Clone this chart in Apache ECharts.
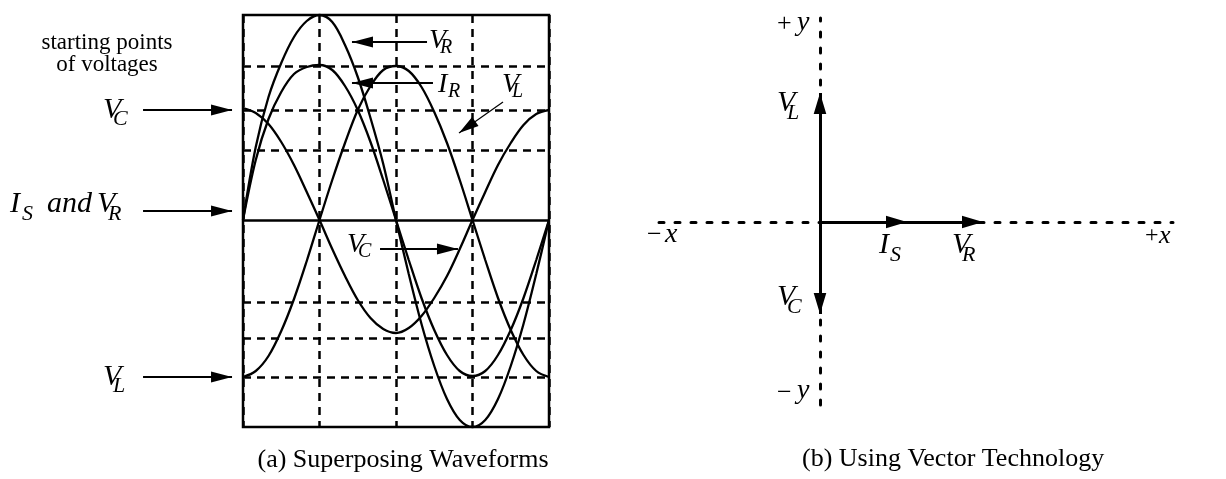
<!DOCTYPE html>
<html><head><meta charset="utf-8">
<script src="https://cdn.jsdelivr.net/npm/echarts/dist/echarts.min.js"></script>
<style>html,body{margin:0;padding:0;background:#fff}#c{width:1226px;height:479px}</style>
</head><body><div id="c"></div>
<script>
// ---------- data ----------
// phase angle (degrees) over one period
const phaseDeg = [0,15,30,45,60,75,90,105,120,135,150,165,180,195,210,225,240,255,270,285,300,315,330,345,360];
const vR = [0,73,123,157,183,199,205,198,175,143,102,56,0,-54,-104,-146,-179,-200,-207,-200,-179,-146,-104,-54,0];
const iS = [0,60,101,128,146,153,155,150,134,110,78,40,0,-40,-78,-110,-135,-151,-156,-151,-135,-110,-78,-40,0];
const vL = [-157,-151,-136,-111,-79,-41,0,40,77,110,134,150,154,149,133,108,77,40,0,-40,-78,-110,-135,-151,-157];
const vC = [112,107,96,78,55,28,0,-29,-56,-80,-98,-109,-113,-108,-96,-78,-56,-29,0,28,55,77,95,106,110];
// horizontal reference levels of the waveform panel
const gridLevels = [154,110,70,-82,-118,-157];
// phasors (x, y components)
const vectorNames = ['V_L','V_C','I_S','V_R'];
const vectorX = [0,0,87,163];
const vectorY = [129,-92,0,0];

// ---------- layout / style ----------
const SERIF = '"Liberation Serif","Times New Roman",serif';
// arrow head whose tip sits at the symbol centre (square bounding box)
function arrowPath(hw){
  return 'path://M-1,-1L-1,-1L-1,-1ZM1,-1L1,-1L1,-1ZM0,0L'+hw+',1L'+(-hw)+',1Z';
}
const toPairs = arr => arr.map((v,i)=>[phaseDeg[i], v]);

function txt(x, y, s, size, italic, align){
  return {type:'text', silent:true, z:10, style:{text:s, x:x, y:y, fill:'#000',
    font:(italic?'italic ':'')+size+'px '+SERIF,
    textAlign:align||'left', align:align||'left', textVerticalAlign:'middle', verticalAlign:'middle'}};
}
function sym(x, y, main, sub, size, dx, dy){
  return [txt(x,y,main,size,true), txt(x+dx,y+dy,sub,Math.round(size*0.72),true)];
}

const graphics = [].concat(
  txt(107,43,'starting points',23,false,'center'),
  txt(107,65,'of voltages',23,false,'center'),
  sym(103,110,'V','C',30,10,9),
  sym(10,204,'I','S',30,12,10),
  txt(47,204,'and',30,true),
  sym(97,204,'V','R',30,11,10),
  sym(103,377,'V','L',30,10,9),
  sym(429,41,'V','R',28,11,7),
  sym(438,85,'I','R',28,10,7),
  sym(502,85,'V','L',28,10,7),
  sym(347,245,'V','C',28,11,7),
  txt(777,24,'+',26,false), txt(797,23,'y',28,true),
  sym(777,103,'V','L',30,10,10),
  txt(647,235,'\u2212',26,false), txt(665,235,'x',28,true),
  sym(879,245,'I','S',30,11,10),
  sym(952,245,'V','R',30,10,10),
  sym(777,297,'V','C',30,10,10),
  txt(777,393,'\u2212',26,false), txt(797,391,'y',28,true),
  txt(1145,236,'+',24,false), txt(1159,236,'x',26,true),
  txt(403,460,'(a) Superposing Waveforms',26,false,'center'),
  txt(802,459,'(b) Using Vector Technology',26,false,'left')
);

// annotation arrows of the waveform panel (in panel data units)
const annotThick = [
  [[216.5,178],[128.2,178]],
  [[223.5,137],[128.2,137]],
  [[161.2,-29],[252.9,-29]],
  [[-117.6,110],[-12.9,110]],
  [[-117.6,9],[-12.9,9]],
  [[-117.6,-157],[-12.9,-157]]
];
const annotThin = [ [[305.9,118],[254.1,87]] ];

const curveStyle = {color:'#000', width:2.3};
function curve(name, vals, extra){
  return Object.assign({name:name, type:'line', xAxisIndex:0, yAxisIndex:0, data:toPairs(vals),
    symbol:'none', smooth:0.35, clip:false, lineStyle:curveStyle, itemStyle:{color:'#000'}, z:3,
    emphasis:{disabled:true}}, extra||{});
}

const chart = echarts.init(document.getElementById('c'), null, {renderer:'canvas'});
chart.setOption({
  animation:false,
  backgroundColor:'#fff',
  grid:[
    {left:243, top:15, width:306, height:412, show:true, borderColor:'#000', borderWidth:2.5, backgroundColor:'transparent'},
    {left:659, top:18, width:514, height:387, show:false}
  ],
  xAxis:[
    {type:'value', gridIndex:0, min:0, max:360, interval:90,
      axisLine:{show:false}, axisTick:{show:false}, axisLabel:{show:false},
      splitLine:{show:true, lineStyle:{color:'#000', width:2.5, type:[8,6]}}},
    {type:'value', gridIndex:1, min:-161, max:353,
      axisLine:{show:true, onZero:true, lineStyle:{color:'#000', width:3, type:[5,11]}},
      axisTick:{show:false}, axisLabel:{show:false}, splitLine:{show:false}}
  ],
  yAxis:[
    {type:'value', gridIndex:0, min:-207, max:205,
      axisLine:{show:false}, axisTick:{show:false}, axisLabel:{show:false}, splitLine:{show:false}},
    {type:'value', gridIndex:1, min:-183, max:204,
      axisLine:{show:true, onZero:true, lineStyle:{color:'#000', width:3, type:[5,11]}},
      axisTick:{show:false}, axisLabel:{show:false}, splitLine:{show:false}}
  ],
  series:[
    curve('V_R', vR, {markLine:{silent:true, symbol:'none', label:{show:false}, animation:false,
      lineStyle:{color:'#000', width:2.5, type:[8,6]},
      data:gridLevels.map(v=>({yAxis:v})).concat([{yAxis:0, lineStyle:{type:'solid', width:2.5, color:'#000'}}])}}),
    curve('I_S', iS),
    curve('V_L', vL),
    curve('V_C', vC),
    {type:'lines', coordinateSystem:'cartesian2d', xAxisIndex:0, yAxisIndex:0, clip:false, z:5,
      symbol:['none', arrowPath(0.26)], symbolSize:42,
      lineStyle:{color:'#000', width:2, opacity:1, curveness:0},
      data:annotThick.map(c=>({coords:c}))},
    {type:'lines', coordinateSystem:'cartesian2d', xAxisIndex:0, yAxisIndex:0, clip:false, z:5,
      symbol:['none', arrowPath(0.28)], symbolSize:40,
      lineStyle:{color:'#000', width:1.2, opacity:1, curveness:0},
      data:annotThin.map(c=>({coords:c}))},
    {type:'lines', coordinateSystem:'cartesian2d', xAxisIndex:1, yAxisIndex:1, clip:false, z:5,
      symbol:['none', arrowPath(0.3)], symbolSize:42,
      lineStyle:{color:'#000', width:3, opacity:1, curveness:0},
      data:vectorX.map((x,i)=>({name:vectorNames[i], coords:[[0,0],[x, vectorY[i]]]}))}
  ],
  graphic:graphics
});
</script></body></html>
